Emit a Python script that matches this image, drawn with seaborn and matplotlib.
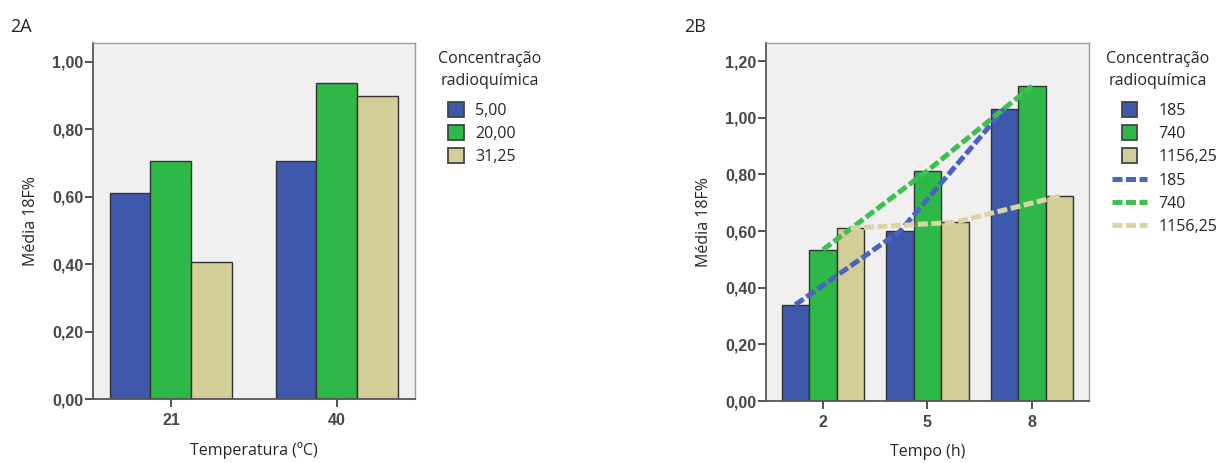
import matplotlib
matplotlib.use("Agg")
import matplotlib.pyplot as plt
import seaborn as sns
import pandas as pd
from matplotlib.patches import Patch, Rectangle
from matplotlib.lines import Line2D
from matplotlib.legend_handler import HandlerPatch
from matplotlib.ticker import FuncFormatter, MultipleLocator

# painel 2A - temperatura
temperaturas = ["21", "40"]
conc_a = ["5,00", "20,00", "31,25"]
media_a_5 = [0.61, 0.705]
media_a_20 = [0.705, 0.936]
media_a_31 = [0.407, 0.898]

# painel 2B - tempo
tempos = ["2", "5", "8"]
conc_b = ["185", "740", "1156,25"]
media_b_185 = [0.34, 0.599, 1.032]
media_b_740 = [0.534, 0.813, 1.112]
media_b_1156 = [0.61, 0.631, 0.723]

titulo_leg = "Concentração\nradioquímica"
cores_barra = ["#3E58AC", "#2EB848", "#D3CE97"]
cores_linha = ["#4B62C2", "#3DC04F", "#DAD4A2"]

sns.set_style("ticks")
plt.rcParams["font.family"] = ["Open Sans", "DejaVu Sans"]

df_a = pd.DataFrame({
    "Temperatura": temperaturas * 3,
    "Conc": [c for c in conc_a for _ in temperaturas],
    "Media": media_a_5 + media_a_20 + media_a_31,
})
df_b = pd.DataFrame({
    "Tempo": tempos * 3,
    "Conc": [c for c in conc_b for _ in tempos],
    "Media": media_b_185 + media_b_740 + media_b_1156,
})

fig = plt.figure(figsize=(12.23, 4.63), dpi=100)
ax_a = fig.add_axes([0.0760, 0.1382, 0.2633, 0.7689])
ax_b = fig.add_axes([0.6263, 0.1339, 0.2641, 0.7732])

sns.barplot(data=df_a, x="Temperatura", y="Media", hue="Conc", order=temperaturas,
            hue_order=conc_a, palette=cores_barra, saturation=1, width=0.74,
            errorbar=None, edgecolor="#333333", linewidth=1.0, legend=False, ax=ax_a)
sns.barplot(data=df_b, x="Tempo", y="Media", hue="Conc", order=tempos,
            hue_order=conc_b, palette=cores_barra, saturation=1, width=0.79,
            errorbar=None, edgecolor="#333333", linewidth=1.0, legend=False, ax=ax_b)

# linhas tracejadas ligando o topo das barras de mesma concentracao
for cont, cor in zip(ax_b.containers, cores_linha):
    xs = [b.get_x() + b.get_width() / 2 for b in cont]
    ys = [b.get_height() for b in cont]
    ax_b.plot(xs, ys, color=cor, lw=3.6, dashes=(2.0, 0.7),
              dash_capstyle="butt", zorder=5)

ax_a.set_xlim(-0.47, 1.47)
ax_a.set_ylim(0, 1.055)
ax_b.set_xlim(-0.545, 2.545)
ax_b.set_ylim(0, 1.264)

fmt = FuncFormatter(lambda v, p: f"{v:.2f}".replace(".", ","))
for ax in (ax_a, ax_b):
    ax.set_facecolor("#F0F0F0")
    ax.yaxis.set_major_locator(MultipleLocator(0.2))
    ax.yaxis.set_major_formatter(fmt)
    ax.tick_params(axis="both", length=6, width=1.3, color="#444444",
                   labelsize=11.5, labelcolor="#484848")
    ax.tick_params(axis="y", pad=1)
    ax.tick_params(axis="x", pad=4)
    for lab in ax.get_xticklabels() + ax.get_yticklabels():
        lab.set_family(["Liberation Sans", "DejaVu Sans"])
        lab.set_fontweight("bold")
    for s in ("top", "right"):
        ax.spines[s].set_color("#9a9a9a")
        ax.spines[s].set_linewidth(1.0)
    for s in ("left", "bottom"):
        ax.spines[s].set_color("#555555")
        ax.spines[s].set_linewidth(1.3)
    ax.set_ylabel("Média 18F%", fontsize=11.5, labelpad=9)

ax_a.set_xlabel("Temperatura (ºC)", fontsize=11.5, labelpad=10)
ax_b.set_xlabel("Tempo (h)", fontsize=11.5, labelpad=10)


def quadrado(legend, orig_handle, xdescent, ydescent, width, height, fontsize):
    s = fontsize * 0.95
    return Rectangle((width / 2 - s / 2 - xdescent, height / 2 - s / 2 - ydescent), s, s)


mapa = {Patch: HandlerPatch(patch_func=quadrado)}

h_a = [Patch(facecolor=c, edgecolor="#444444", linewidth=1.3) for c in cores_barra]
ax_a.legend(h_a, conc_a, loc="upper left", bbox_to_anchor=(448 / 1223, 1 - 103 / 463),
            bbox_transform=fig.transFigure, frameon=False, fontsize=11.5,
            handlelength=1.0, handleheight=0.8, handletextpad=0.7,
            labelspacing=0.45, borderpad=0, borderaxespad=0, handler_map=mapa)

h_b = [Patch(facecolor=c, edgecolor="#444444", linewidth=1.3) for c in cores_barra]
h_b += [Line2D([], [], color=c, lw=3.6, dashes=(2.0, 0.7), dash_capstyle="butt")
        for c in cores_linha]
ax_b.legend(h_b, conc_b + conc_b, loc="upper left",
            bbox_to_anchor=(1112 / 1223, 1 - 103 / 463),
            bbox_transform=fig.transFigure, frameon=False, fontsize=11.5,
            handlelength=2.2, handleheight=0.8, handletextpad=0.7,
            labelspacing=0.45, borderpad=0, borderaxespad=0, handler_map=mapa)

fig.text(490 / 1223, 1 - 70 / 463, titulo_leg, ha="center", va="center",
         fontsize=11.5, linespacing=1.55, multialignment="center")
fig.text(1158 / 1223, 1 - 70 / 463, titulo_leg, ha="center", va="center",
         fontsize=11.5, linespacing=1.55, multialignment="center")

fig.text(10 / 1223, 1 - 27 / 463, "2A", fontsize=13, va="center")
fig.text(684 / 1223, 1 - 27 / 463, "2B", fontsize=13, va="center")

fig.savefig("out.png", dpi=100)
